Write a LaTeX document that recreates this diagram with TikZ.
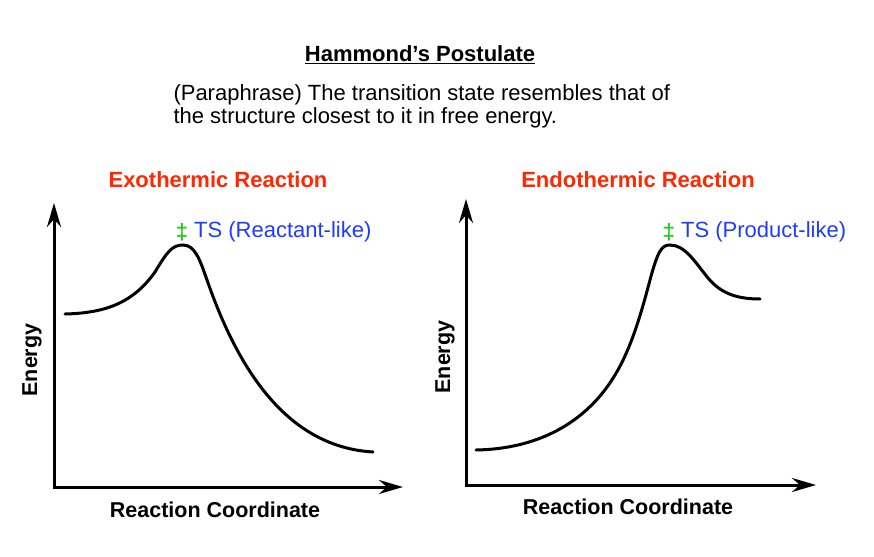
\documentclass[tikz,border=0pt]{standalone}
\usepackage{fontspec}
\setmainfont{Liberation Sans}
\usetikzlibrary{arrows.meta,positioning}

\definecolor{titlered}{RGB}{255,40,0}
\definecolor{tsblue}{RGB}{30,60,255}
\definecolor{tsgreen}{RGB}{40,200,40}

\begin{document}
\begin{tikzpicture}[x=1pt,y=-1pt,line width=3pt,
                    >={Stealth[length=24pt,width=14pt]}]

  \tikzstyle{every node}=[inner sep=0pt]
  \tikzstyle{head}=[font=\fontsize{22}{26}\selectfont\bfseries,text=titlered]
  \tikzstyle{axlabel}=[font=\fontsize{21.5}{26}\selectfont\bfseries]
  \tikzstyle{dag}=[font=\fontsize{22}{26}\selectfont\bfseries,text=tsgreen]
  \tikzstyle{ts}=[font=\fontsize{22}{26}\selectfont,text=tsblue]
  \tikzstyle{curve}=[line width=3pt,line cap=round]

  \useasboundingbox (0,0) rectangle (874,556);

  \node (TTL) at (420,55)
    {\fontsize{22}{26}\selectfont\bfseries\underline{Hammond’s Postulate}};
  \node[anchor=base west,align=left,font=\fontsize{22}{23.5}\selectfont]
    (PAR) at (172,124)
    {(Paraphrase) The transition state resembles that of \\
     the structure closest to it in free energy.};

  % exothermic
  \node[head] (EXO) at (218,180) {Exothermic Reaction};
  \coordinate (O1) at (54,487);
  \coordinate (Y1) at (54,203);
  \coordinate (X1) at (403,487);
  \draw[<->] (Y1) |- (X1);
  \node[axlabel,rotate=90] (EN1) at (32,360) {Energy};
  \node[axlabel] (RC1) at (215,510) {Reaction Coordinate};
  \node[dag] (D1) at (182,232) {‡};
  \node[ts,right=3pt of D1] (TS1) {TS (Reactant-like)};
  \draw[curve] (65,314) .. controls (110,313) and (135,300) .. (155,272)
    .. controls (167,252) and (172,245) .. (183,245)
    .. controls (195,245) and (200,260) .. (207,280)
    .. controls (240,375) and (290,447) .. (373,452);

  % endothermic
  \node[head] (ENDO) at (638,180) {Endothermic Reaction};
  \coordinate (O2) at (466,485);
  \coordinate (Y2) at (466,199);
  \coordinate (X2) at (816,485);
  \draw[<->] (Y2) |- (X2);
  \node[axlabel,rotate=90] (EN2) at (445,357) {Energy};
  \node[axlabel] (RC2) at (628,507) {Reaction Coordinate};
  \node[dag] (D2) at (669,232) {‡};
  \node[ts,right=3pt of D2] (TS2) {TS (Product-like)};
  \draw[curve] (476,450) .. controls (535,449) and (585,425) .. (615,375)
    .. controls (632,347) and (642,310) .. (650,280)
    .. controls (658,250) and (662,245) .. (670,245)
    .. controls (685,245) and (695,262) .. (708,278)
    .. controls (722,295) and (740,299) .. (760,299);

\end{tikzpicture}
\end{document}
